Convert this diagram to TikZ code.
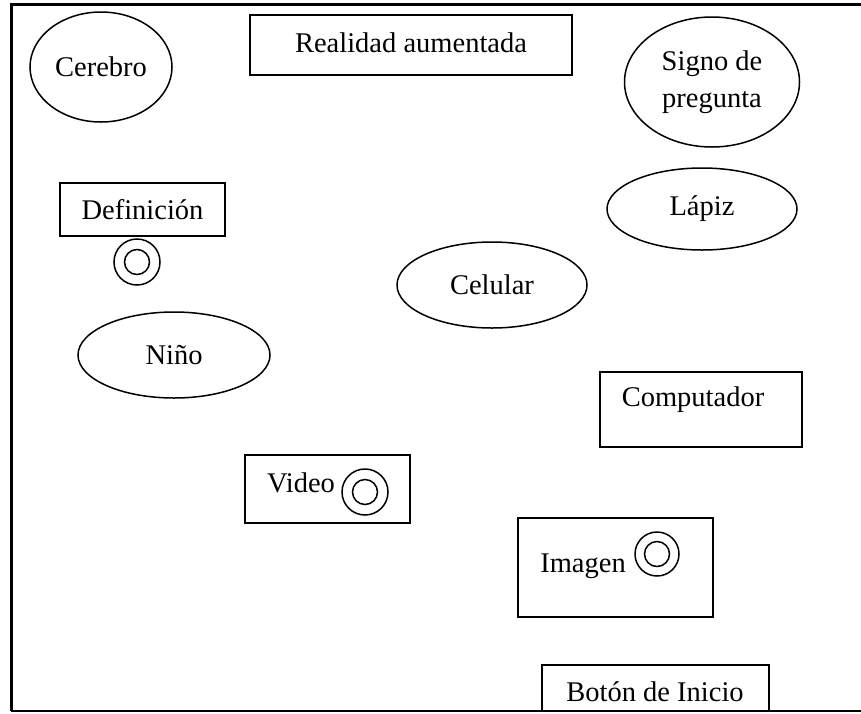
\documentclass[tikz,border=0pt]{standalone}
\usepackage{fontspec}
\setmainfont{Liberation Serif}
\usetikzlibrary{shapes.geometric}
\tikzset{
  oval/.style={draw,ellipse,line width=1.5pt,inner sep=0pt},
  box/.style={draw,rectangle,line width=1.2pt,inner sep=0pt},
  ring/.style={draw,circle,line width=1.5pt,inner sep=0pt,minimum size=46pt},
  dot/.style={draw,circle,line width=1.5pt,inner sep=0pt,minimum size=25pt},
  txt/.style={inner sep=0pt,font=\fontsize{28.5}{37}\selectfont,align=center}
}

\begin{document}
\begin{tikzpicture}[x=1pt,y=-1pt]
    \useasboundingbox (0,0) rectangle (861,713);

    % Frame
    \coordinate (tl) at (11,4);
    \coordinate (tr) at (861,4);
    \coordinate (bl) at (11,711);
    \coordinate (br) at (861,711);
    \draw[line width=3pt] (tr) -- (tl) -- (bl);
    \draw[line width=1.5pt] (bl) -- (br);

    % Ovals
    \node[oval,txt,minimum width=142pt,minimum height=110pt] (cerebro) at (101,67) {Cerebro};
    \node[oval,txt,minimum width=175pt,minimum height=130pt] (signo) at (712,82) {Signo de\\pregunta};
    \node[oval,txt,minimum width=190pt,minimum height=82pt] (lapiz) at (702,209) {Lápiz};
    \node[oval,txt,minimum width=190pt,minimum height=86pt] (celular) at (492,285) {Celular};
    \node[oval,txt,minimum width=192pt,minimum height=86pt] (nino) at (174,355) {Niño};

    % Boxes
    \node[box,minimum width=322pt,minimum height=60pt] (realidad) at (411,45) {};
    \node[txt] (realidadtxt) at (411,43) {Realidad aumentada};
    \node[box,txt,minimum width=165pt,minimum height=53pt] (definicion) at (142.5,209.5) {Definición};
    \node[box,minimum width=202pt,minimum height=75pt] (computador) at (701,409.5) {};
    \node[txt] (computadortxt) at (693,400) {Computador};
    \node[box,minimum width=165pt,minimum height=68pt] (video) at (327.5,489) {};
    \node[txt] (videotxt) at (301,483) {Video};
    \node[box,minimum width=195pt,minimum height=99pt] (imagen) at (615.5,567.5) {};
    \node[txt] (imagentxt) at (583,566) {Imagen};

    % Targets
    \node[ring] (defring) at (137,262) {};
    \node[dot] (defdot) at (defring.center) {};
    \node[ring] (vidring) at (365,492) {};
    \node[dot] (viddot) at (vidring.center) {};
    \node[ring,minimum size=44pt] (imgring) at (657,554) {};
    \node[dot] (imgdot) at (imgring.center) {};

    % Start button
    \coordinate (btnl) at (542,711);
    \coordinate (btnr) at (769,711);
    \draw[line width=1.2pt] (btnl) -- ++(0,-46) -| (btnr);
    \node[txt] (boton) at (655,692) {Botón de Inicio};
\end{tikzpicture}
\end{document}
